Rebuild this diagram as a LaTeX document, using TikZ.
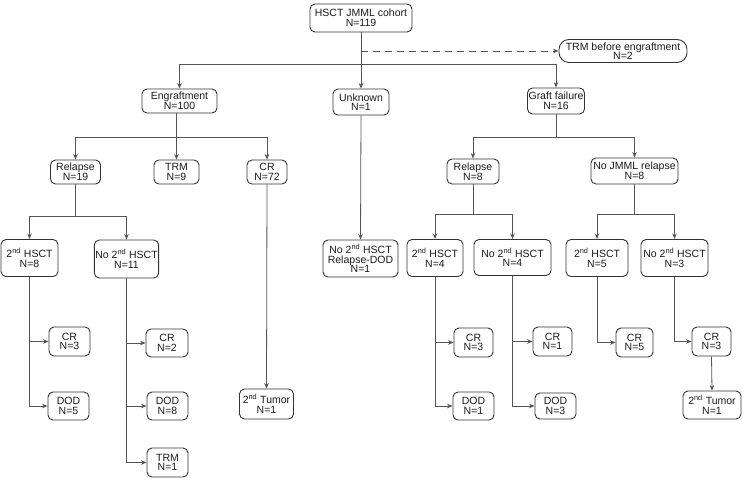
\documentclass[tikz,border=0pt]{standalone}
\usepackage{fontspec}
\setmainfont{Liberation Sans}
\usetikzlibrary{arrows.meta}
\definecolor{linec}{HTML}{555555}
\definecolor{boxc}{HTML}{333333}
\definecolor{txtc}{HTML}{1A1A1A}
\tikzset{
  box/.style={draw=boxc, line width=0.9pt, rounded corners=5pt, align=center,
    inner sep=1pt, text=txtc, font=\fontsize{10.5}{9.6}\selectfont},
  pill/.style={box, rounded corners=10pt},
  conn/.style={draw=linec, line width=0.8pt},
  arr/.style={conn, -{Stealth[length=5.5pt,width=4.5pt]}},
  sz/.style 2 args={minimum width=#1pt, minimum height=#2pt}
}
\newcommand{\nd}{\textsuperscript{nd}}
\begin{document}
\begin{tikzpicture}[x=1pt,y=-1pt]
\useasboundingbox (0,0) rectangle (746,481);
% nodes
\node[box,sz={102}{28}] (root) at (361,18) {HSCT JMML cohort\\N=119};
\node[pill,sz={128}{23}] (trm0) at (623,51) {TRM before engraftment\\N=2};
\node[box,sz={75}{24}] (engraft) at (179.5,101) {Engraftment\\N=100};
\node[box,sz={56}{26}] (unknown) at (361,102) {Unknown\\N=1};
\node[box,sz={57}{26}] (graft) at (556,101) {Graft failure\\N=16};
\node[box,sz={50}{24}] (rel19) at (75.5,172) {Relapse\\N=19};
\node[box,sz={45}{24}] (trm9) at (176.5,172) {TRM\\N=9};
\node[box,sz={40}{24}] (cr72) at (267,172) {CR\\N=72};
\node[box,sz={57}{37}] (hsct8) at (29.5,258) {2\nd{} HSCT\\N=8};
\node[box,sz={64}{38}] (nohsct11) at (126.5,259) {No 2\nd{} HSCT\\N=11};
\node[box,sz={41}{29}] (cr3a) at (69.5,341.5) {CR\\N=3};
\node[box,sz={41}{28}] (dod5) at (68.5,406) {DOD\\N=5};
\node[box,sz={42}{28}] (cr2) at (167,343) {CR\\N=2};
\node[box,sz={41}{28}] (dod8) at (167.5,406) {DOD\\N=8};
\node[box,sz={41}{29}] (trm1) at (167.5,462.5) {TRM\\N=1};
\node[box,sz={54}{30}] (tumorA) at (266.5,404) {2\nd{} Tumor\\N=1};
\node[box,sz={75}{37}] (nodod) at (360.5,258.5) {No 2\nd{} HSCT\\Relapse-DOD\\N=1};
\node[box,sz={52}{25}] (rel8) at (473,171.5) {Relapse\\N=8};
\node[box,sz={87}{26}] (nojmml) at (634.5,171) {No JMML relapse\\N=8};
\node[box,sz={56}{37}] (hsct4) at (435,258) {2\nd{} HSCT\\N=4};
\node[box,sz={77}{36}] (nohsct4) at (512.5,257.5) {No 2\nd{} HSCT\\N=4};
\node[box,sz={62}{37}] (hsct5) at (597,258) {2\nd{} HSCT\\N=5};
\node[box,sz={67}{37}] (nohsct3) at (674.5,258) {No 2\nd{} HSCT\\N=3};
\node[box,sz={39}{29}] (cr3b) at (473.5,342.5) {CR\\N=3};
\node[box,sz={41}{28}] (dod1) at (473.5,406) {DOD\\N=1};
\node[box,sz={39}{29}] (cr1) at (552.5,341.5) {CR\\N=1};
\node[box,sz={41}{26}] (dod3) at (555.5,406) {DOD\\N=3};
\node[box,sz={37}{29}] (cr5) at (634.5,342.5) {CR\\N=5};
\node[box,sz={39}{29}] (cr3c) at (711.5,341.5) {CR\\N=3};
\node[box,sz={58}{28}] (tumorB) at (712,405) {2\nd{} Tumor\\N=1};
% bus levels
\coordinate (b1) at (0,64);
\coordinate (b2) at (0,137);
\coordinate (b3) at (0,216);
\coordinate (b4) at (0,214);
% level 1
\draw[arr] (root) -- (unknown);
\draw[arr,dash pattern=on 7pt off 5pt] (root |- trm0) -- (trm0.west);
\draw[arr] (root |- b1) -| (engraft.north);
\draw[arr] (root |- b1) -| (graft.north);
% engraftment
\draw[conn] (trm9 |- engraft.south) -- (trm9 |- b2);
\draw[arr] (trm9 |- engraft.south) -- (trm9.north);
\draw[arr] (trm9 |- b2) -| (rel19.north);
\draw[arr] (trm9 |- b2) -| (cr72.north);
\draw[arr] (cr72.south) -- (tumorA.north);
% relapse 19
\draw[conn] (rel19.south) -- (rel19 |- b3);
\draw[arr] (rel19 |- b3) -| (hsct8.north);
\draw[arr] (rel19 |- b3) -| (nohsct11.north);
\draw[arr] (hsct8.south) |- (cr3a.west);
\draw[arr] (hsct8.south) |- (dod5.west);
\draw[arr] (nohsct11.south) |- (cr2.west);
\draw[arr] (nohsct11.south) |- (dod8.west);
\draw[arr] (nohsct11.south) |- (trm1.west);
% unknown
\draw[arr] (unknown.south) -- (nodod.north);
% graft failure
\draw[conn] (graft.south) -- (graft |- b2);
\draw[arr] (graft |- b2) -| (rel8.north);
\draw[arr] (graft |- b2) -| (nojmml.north);
\draw[conn] (rel8.south) -- (rel8 |- b4);
\draw[arr] (rel8 |- b4) -| (hsct4.north);
\draw[arr] (rel8 |- b4) -| (nohsct4.north);
\draw[conn] (nojmml.south) -- (nojmml |- b4);
\draw[arr] (nojmml |- b4) -| (hsct5.north);
\draw[arr] (nojmml |- b4) -| (nohsct3.north);
\draw[arr] (hsct4.south) |- (cr3b.west);
\draw[arr] (hsct4.south) |- (dod1.west);
\draw[arr] (nohsct4.south) |- (cr1.west);
\draw[arr] (nohsct4.south) |- (dod3.west);
\draw[arr] (hsct5.south) |- (cr5.west);
\draw[arr] (nohsct3.south) |- (cr3c.west);
\draw[arr] (cr3c.south) -- (tumorB.north);
\end{tikzpicture}
\end{document}
